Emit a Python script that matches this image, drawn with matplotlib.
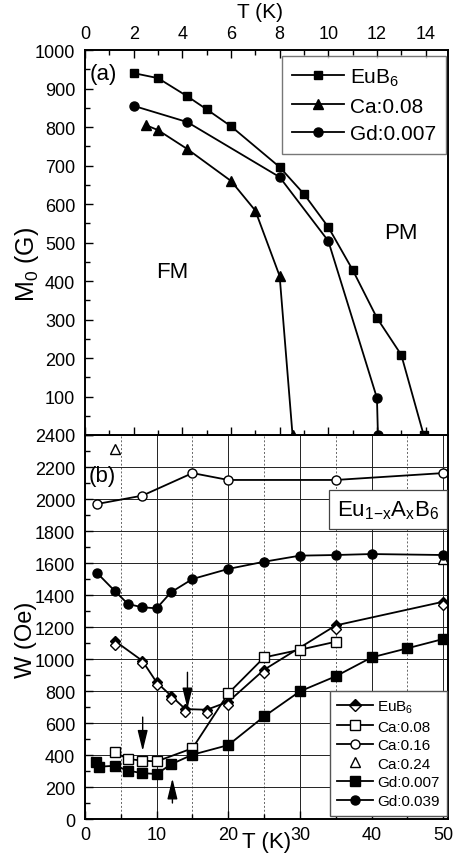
#!/usr/bin/env python
# coding: utf-8

import matplotlib
matplotlib.use('Agg')
import matplotlib.pyplot as plt
from matplotlib.lines import Line2D
from matplotlib.ticker import MultipleLocator, FixedLocator, FixedFormatter

plt.rcParams['font.family'] = ['Liberation Sans', 'DejaVu Sans']
plt.rcParams['mathtext.fontset'] = 'custom'
plt.rcParams['mathtext.rm'] = 'Liberation Sans'
plt.rcParams['mathtext.it'] = 'Liberation Sans'

###############################################################################
# (a) M0 vs T
t_eub6 = [2, 3, 4.2, 5, 6, 8, 9, 10, 11, 12, 13, 13.92]
m_eub6 = [940, 927, 880, 846, 802, 696, 626, 540, 429, 304, 208, 0]

t_ca008 = [2.5, 3, 4.2, 6, 7, 8, 8.53]
m_ca008 = [805, 792, 743, 660, 583, 413, 0]

t_gd0007 = [2, 4.2, 8, 10, 12, 12.04]
m_gd0007 = [855, 813, 670, 504, 96, 0]

# (b) W vs T
t_w_eub6 = [4.2, 8, 10, 12, 14, 17, 20, 25, 35, 50]
w_eub6_fill = [1112, 989, 854, 771, 687, 683, 733, 933, 1210, 1358]
w_eub6_open = [1088, 972, 835, 752, 667, 665, 710, 910, 1190, 1337]

t_w_ca008 = [4.2, 6, 8, 10, 15, 20, 25, 30, 35]
w_ca008 = [417, 375, 365, 360, 442, 785, 1010, 1058, 1108]

t_w_ca016 = [1.7, 8, 15, 20, 35, 50]
w_ca016 = [1969, 2021, 2162, 2119, 2119, 2162]

t_w_ca024 = [4.2, 50]
w_ca024 = [2312, 1625]

t_w_gd0007 = [1.5, 2, 4.2, 6, 8, 10, 12, 15, 20, 25, 30, 35, 40, 45, 50]
w_gd0007 = [354, 327, 333, 302, 287, 281, 342, 402, 462, 641, 798, 892, 1010, 1067, 1125]

t_w_gd0039 = [1.7, 4.2, 6, 8, 10, 12, 15, 20, 25, 30, 35, 40, 50]
w_gd0039 = [1537, 1423, 1344, 1323, 1317, 1417, 1500, 1563, 1608, 1646, 1650, 1656, 1650]

# arrows (tail -> head)
arrows = [((14.3, 917), (14.3, 690)),
          ((8.05, 637), (8.05, 425)),
          ((12.2, 100), (12.2, 254))]

###############################################################################
def painel_a(ax):
    kw = dict(color='k', lw=1.3)
    ax.plot(t_eub6, m_eub6, 's-', ms=5.5, label=r'EuB$_6$', **kw)
    ax.plot(t_ca008, m_ca008, '^-', ms=6.5, label='Ca:0.08', **kw)
    ax.plot(t_gd0007, m_gd0007, 'o-', ms=6.5, label='Gd:0.007', **kw)

    ax.set_xlim(0, 14.9)
    ax.set_ylim(0, 1000)
    ax.xaxis.set_major_locator(MultipleLocator(2))
    ax.xaxis.set_minor_locator(MultipleLocator(1))
    ax.yaxis.set_major_locator(FixedLocator(range(0, 1001, 100)))
    ax.yaxis.set_major_formatter(FixedFormatter([''] + [str(v) for v in range(100, 1001, 100)]))
    ax.yaxis.set_minor_locator(MultipleLocator(50))
    ax.tick_params(axis='x', which='both', direction='in', top=True, bottom=True,
                   labeltop=True, labelbottom=False, labelsize=13, pad=6)
    ax.tick_params(axis='y', which='both', direction='in', left=True, right=False,
                   labelsize=13, pad=7)
    ax.tick_params(which='major', length=6, width=1)
    ax.tick_params(which='minor', length=3.5, width=1)

    # titulo do eixo de cima, acima dos numeros
    ax.text(0.484, 1.101, 'T (K)', fontsize=15, ha='center', va='center',
            transform=ax.transAxes)
    ax.set_ylabel(r'M$_0$ (G)', fontsize=18)
    ax.yaxis.set_label_coords(-0.16, 0.445)
    ax.yaxis.label.set_va('center')

    ax.text(0.74, 940, '(a)', fontsize=16, ha='center', va='center')
    ax.text(3.6, 426, 'FM', fontsize=16, ha='center', va='center')
    ax.text(13.0, 527, 'PM', fontsize=16, ha='center', va='center')

    leg = ax.legend(loc='upper right', bbox_to_anchor=(0.996, 0.984), fontsize=15,
                    frameon=True, fancybox=False, borderaxespad=0, handlelength=2.5,
                    handletextpad=0.25, labelspacing=0.42, borderpad=0.5)
    leg.get_frame().set_edgecolor('#555555')
    leg.get_frame().set_linewidth(1.0)
    for sp in ax.spines.values():
        sp.set_linewidth(1.4)

###############################################################################
def painel_b(ax):
    ax.grid(True, which='major', axis='both', color='#222222', lw=0.7, ls='-')
    ax.grid(True, which='minor', axis='x', color='#666666', lw=0.7, ls=(0, (2, 2)))
    ax.set_axisbelow(True)

    kw = dict(color='k', lw=1.3)
    ax.plot(t_w_eub6, w_eub6_fill, 'D-', ms=5.5, mfc='k', **kw)
    ax.plot(t_w_eub6, w_eub6_open, 'D', ms=5.5, mfc='white', color='k', mew=1)
    ax.plot(t_w_ca008, w_ca008, 's-', ms=6.5, mfc='white', mew=1, **kw)
    ax.plot(t_w_ca016, w_ca016, 'o-', ms=6.5, mfc='white', mew=1, **kw)
    ax.plot(t_w_ca024, w_ca024, '^', ms=7, mfc='white', color='k', mew=1)
    ax.plot(t_w_gd0007, w_gd0007, 's-', ms=6.5, **kw)
    ax.plot(t_w_gd0039, w_gd0039, 'o-', ms=6.5, **kw)

    for tail, head in arrows:
        ax.annotate('', xy=head, xytext=tail,
                    arrowprops=dict(arrowstyle='-|>,head_length=0.9,head_width=0.22',
                                    color='k', lw=1, mutation_scale=14,
                                    shrinkA=0, shrinkB=0))

    ax.set_xlim(0, 50.6)
    ax.set_ylim(0, 2400)
    ax.xaxis.set_major_locator(MultipleLocator(10))
    ax.xaxis.set_minor_locator(MultipleLocator(5))
    ax.yaxis.set_major_locator(MultipleLocator(200))
    ax.yaxis.set_minor_locator(MultipleLocator(100))
    ax.tick_params(axis='x', which='both', direction='in', top=False, bottom=True,
                   labelsize=13, pad=5)
    ax.tick_params(axis='y', which='both', direction='in', left=True, right=False,
                   labelsize=13, pad=7)
    ax.tick_params(which='major', length=6, width=1)
    ax.tick_params(which='minor', length=3.5, width=1)

    ax.set_xlabel('T (K)', fontsize=16)
    ax.xaxis.set_label_coords(0.502, -0.058)
    ax.xaxis.label.set_va('center')
    ax.set_ylabel('W (Oe)', fontsize=17)
    ax.yaxis.set_label_coords(-0.163, 0.469)
    ax.yaxis.label.set_va('center')

    ax.text(2.47, 2146, '(b)', fontsize=16, ha='center', va='center')
    ax.text(42.3, 1934, r'Eu$_{1\mathregular{-}x}$A$_x$B$_6$', fontsize=16,
            ha='center', va='center',
            bbox=dict(boxstyle='square,pad=0.35', fc='white', ec='#444444', lw=0.9))

    # legenda: EuB6 aparece como losango meio cheio
    proxy = [
        Line2D([], [], color='k', lw=1.3, marker='D', ms=6, fillstyle='top',
               mfc='k', mfcalt='white', mec='k'),
        Line2D([], [], color='k', lw=1.3, marker='s', ms=6.5, mfc='white'),
        Line2D([], [], color='k', lw=1.3, marker='o', ms=6.5, mfc='white'),
        Line2D([], [], color='k', lw=0, marker='^', ms=7, mfc='white'),
        Line2D([], [], color='k', lw=1.3, marker='s', ms=6.5),
        Line2D([], [], color='k', lw=1.3, marker='o', ms=6.5),
    ]
    nomes = [r'EuB$_6$', 'Ca:0.08', 'Ca:0.16', 'Ca:0.24', 'Gd:0.007', 'Gd:0.039']
    leg = ax.legend(proxy, nomes, loc='lower right', bbox_to_anchor=(0.9995, 0.009),
                    fontsize=11, frameon=True, fancybox=False, borderaxespad=0,
                    handlelength=2.3, handletextpad=0.3, labelspacing=0.3,
                    borderpad=0.5, framealpha=1)
    leg.get_frame().set_edgecolor('#555555')
    leg.get_frame().set_linewidth(1.0)
    for sp in ax.spines.values():
        sp.set_linewidth(1.4)

###############################################################################
if __name__ == '__main__':
    fig = plt.figure(figsize=(4.58, 8.62), dpi=100)
    ax_b = fig.add_axes([0.1856, 0.0487, 0.7915, 0.4455])
    ax_a = fig.add_axes([0.1856, 0.4942, 0.7915, 0.4466])
    painel_a(ax_a)
    painel_b(ax_b)
    fig.savefig('out.png', dpi=100)
